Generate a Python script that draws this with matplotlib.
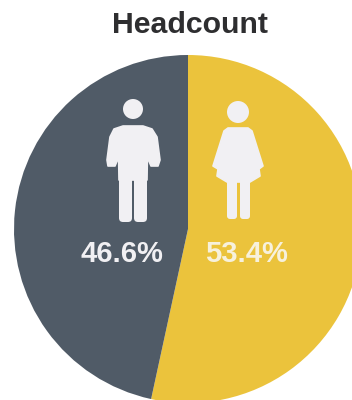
import matplotlib
matplotlib.use("Agg")
import matplotlib.pyplot as plt
from matplotlib.patches import Circle, Polygon, FancyBboxPatch

title = "Headcount"
categories = ["Female", "Male"]
shares = [53.4, 46.6]
share_labels = ["53.4%", "46.6%"]
slice_colors = ["#EBC33C", "#505B67"]
ink = "#F1F0F3"

W, H = 352, 400
fig = plt.figure(figsize=(W / 100, H / 100), dpi=100)
ax = fig.add_axes([0, 0, 1, 1])

# Pie runs clockwise from twelve o'clock, overflowing the right and bottom edges
ax.pie(shares, colors=slice_colors, startangle=90, counterclock=False,
       center=(188, H - 229), radius=174, frame=True,
       wedgeprops={"linewidth": 0})
ax.set_xlim(0, W)
ax.set_ylim(0, H)
ax.set_aspect("equal")
ax.axis("off")


def top(y):
    """Convert a distance from the top edge to an axes y value."""
    return H - y


def shape(points, **kw):
    ax.add_patch(Polygon([(x, top(y)) for x, y in points], closed=True,
                         facecolor=ink, edgecolor=ink, linewidth=1.2,
                         joinstyle="round", zorder=3, **kw))


def bar(x0, y0, x1, y1, r=3.5):
    ax.add_patch(FancyBboxPatch((x0 + r, top(y1) + r), x1 - x0 - 2 * r, y1 - y0 - 2 * r,
                                boxstyle=f"round,pad={r}", facecolor=ink,
                                edgecolor="none", zorder=3))


# Male figure
ax.add_patch(Circle((133, top(109)), 10, facecolor=ink, edgecolor="none", zorder=3))
shape([(123, 126), (143, 126), (152, 129), (157, 137), (160, 160), (158, 166),
       (151, 166), (148.5, 160), (147.5, 150), (147, 180),
       (119, 180), (118.5, 150), (117.5, 160), (115, 166),
       (108, 166), (107, 160), (110, 137), (114, 129)])
bar(119, 172, 132, 222, r=4)
bar(134, 172, 147, 222, r=4)

# Female figure
ax.add_patch(Circle((238, top(112)), 11, facecolor=ink, edgecolor="none", zorder=3))
shape([(228, 128), (248, 128), (252, 131), (263, 166), (259, 169), (260, 176),
       (250, 182), (227, 182), (217, 176), (218, 169), (213, 166), (224, 131)])
bar(227, 178, 237, 219, r=3)
bar(240, 178, 250, 219, r=3)

# Title and slice labels
font = {"family": "Liberation Sans", "fontweight": "bold"}
ax.text(190, top(25), title, ha="center", va="center", fontsize=21.8, color="#2E2E30", **font)
ax.text(246, top(254), share_labels[0], ha="center", va="center", fontsize=21, color="#F7F1DC", **font)
ax.text(122, top(254), share_labels[1], ha="center", va="center", fontsize=21, color=ink, **font)

fig.savefig("out.png", dpi=100, facecolor="white")
